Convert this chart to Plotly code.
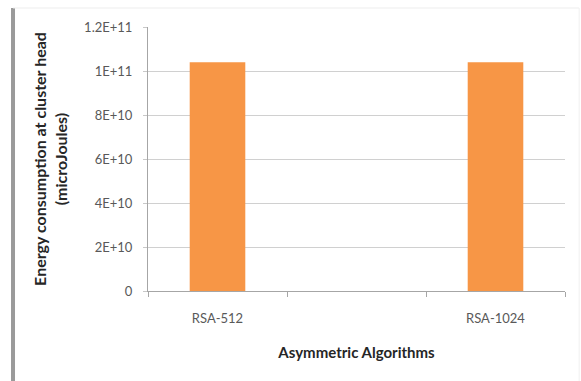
import plotly.graph_objects as go

# Chart data
categories = ["RSA-512", " ", "RSA-1024"]
energy_uj = [1.04e11, None, 1.04e11]
y_tick_values = [0, 2e10, 4e10, 6e10, 8e10, 1e11, 1.2e11]
y_tick_labels = ["0", "2E+10", "4E+10", "6E+10", "8E+10", "1E+11", "1.2E+11"]

font_family = "Lato, 'Open Sans', sans-serif"

fig = go.Figure()
fig.add_trace(go.Bar(
    x=categories,
    y=energy_uj,
    marker=dict(color="#F79646", line=dict(width=0)),
    width=0.4,
    hoverinfo="x+y",
))

fig.update_layout(
    width=581,
    height=381,
    margin=dict(l=148, r=16, t=27, b=90),
    paper_bgcolor="white",
    plot_bgcolor="white",
    showlegend=False,
    font=dict(family=font_family, size=13, color="#595959"),
    bargap=0.6,
)

fig.update_xaxes(
    type="category",
    categoryorder="array",
    categoryarray=categories,
    range=[-0.5, 2.5],
    showgrid=False,
    showline=True,
    linecolor="#A6A6A6",
    linewidth=1,
    ticks="outside",
    tickson="boundaries",
    ticklen=5,
    tickcolor="#A6A6A6",
    ticklabelstandoff=15,
    tickfont=dict(size=13, color="#595959"),
    title=dict(
        text="<b>Asymmetric Algorithms</b>",
        font=dict(size=15, color="#262626"),
        standoff=22,
    ),
)

fig.update_yaxes(
    range=[0, 1.2e11],
    tickvals=y_tick_values,
    ticktext=y_tick_labels,
    showgrid=True,
    gridcolor="#D0D0D0",
    gridwidth=1,
    showline=True,
    linecolor="#A6A6A6",
    linewidth=1,
    ticks="outside",
    ticklen=4,
    tickcolor="#C8C8C8",
    ticklabelstandoff=8,
    tickfont=dict(size=13, color="#595959"),
    zeroline=False,
    title=dict(
        text="<b>Energy consumption at cluster head<br>(microJoules)</b>",
        font=dict(size=16, color="#262626"),
        standoff=12,
    ),
)

# Chart frame: heavy gray left edge, faint top and right edges
fig.add_shape(type="line", xref="paper", yref="paper",
              x0=-0.3237, x1=-0.3237, y0=1.072, y1=-0.36,
              line=dict(color="#9A9A9A", width=4))
fig.add_shape(type="line", xref="paper", yref="paper",
              x0=-0.3237, x1=1.034, y0=1.072, y1=1.072,
              line=dict(color="#EDEDED", width=1))
fig.add_shape(type="line", xref="paper", yref="paper",
              x0=1.034, x1=1.034, y0=1.072, y1=-0.36,
              line=dict(color="#F0F0F0", width=1))

fig.write_html("out.html")
